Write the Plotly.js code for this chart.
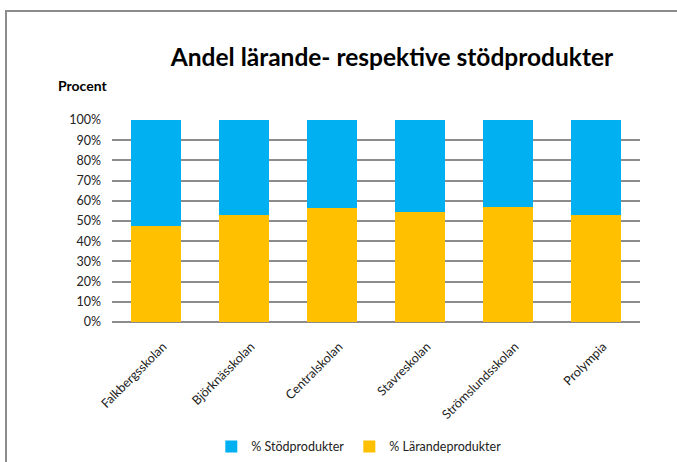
<!DOCTYPE html>
<html><head><meta charset="utf-8">
<script src="https://cdn.plot.ly/plotly-3.0.1.min.js"></script>
<style>
html,body{margin:0;padding:0;background:#fff;}
#wrap{position:relative;width:677px;height:462px;overflow:hidden;}
#chart{position:absolute;left:0;top:0;width:677px;height:462px;}
#frame{position:absolute;left:5px;top:10px;width:700px;height:500px;border:2px solid #8c8c8c;pointer-events:none;}
</style></head>
<body><div id="wrap"><div id="chart"></div><div id="frame"></div></div>
<script>
const categories = ["Falkbergsskolan","Björknässkolan","Centralskolan","Stavreskolan","Strömslundsskolan","Prolympia"];
const larande = [47.5, 52.8, 56.4, 54.4, 56.8, 52.8];
const stod = [52.5, 47.2, 43.6, 45.6, 43.2, 47.2];
const yTicks = [0,10,20,30,40,50,60,70,80,90,100];
const yTickText = yTicks.map(v => v + "%");

const font = "Lato, 'Open Sans', sans-serif";
const data = [
  {type:'bar', name:'% Lärandeprodukter', x:categories, y:larande, marker:{color:'#FFC000'}, hoverinfo:'skip'},
  {type:'bar', name:'% Stödprodukter', x:categories, y:stod, marker:{color:'#00B0F0'}, hoverinfo:'skip'}
];
const layout = {
  width:677, height:462,
  paper_bgcolor:'#fff', plot_bgcolor:'#fff',
  barmode:'stack', bargap:0.43,
  margin:{l:112, r:37, t:120, b:140},
  showlegend:true,
  legend:{orientation:'h', xref:'container', x:0.53, xanchor:'center', yref:'container', y:0.033, yanchor:'middle', traceorder:'reversed',
          font:{family:font, size:12.5, color:'#222'}, itemwidth:30, tracegroupgap:0},
  title:{text:'<b>Andel lärande- respektive stödprodukter</b>', xref:'container', x:0.579, xanchor:'center', y:0.876, yanchor:'middle',
         font:{family:font, size:24.5, color:'#000'}},
  xaxis:{tickangle:-45, tickfont:{family:font, size:12.5, color:'#222'}, showline:false, showgrid:false, ticks:'',
         ticklabelstandoff:14, ticklabelshift:7, automargin:false, fixedrange:true},
  yaxis:{range:[0,100], tickvals:yTicks, ticktext:yTickText, tickfont:{family:font, size:12.5, color:'#222'},
         showgrid:true, gridcolor:'#8c8c8c', gridwidth:2, zeroline:true, zerolinecolor:'#8c8c8c', zerolinewidth:2,
         ticks:'', ticklen:0, ticklabelstandoff:10, automargin:false, fixedrange:true},
  annotations:[{text:'<b>Procent</b>', xref:'paper', yref:'paper', x:-0.106, y:1.17, xanchor:'left', yanchor:'middle',
                showarrow:false, font:{family:font, size:14, color:'#000'}}]
};
Plotly.newPlot('chart', data, layout, {displayModeBar:false, staticPlot:true});
</script></body></html>
